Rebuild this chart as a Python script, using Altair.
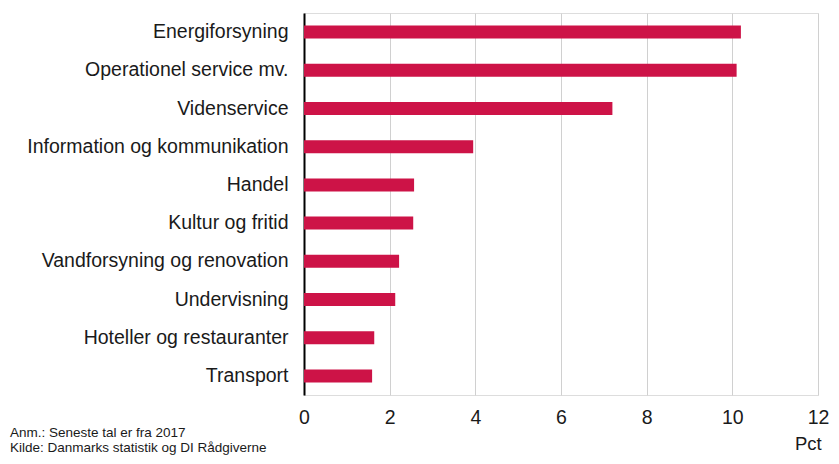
import altair as alt
import pandas as pd

categories = [
    "Energiforsyning",
    "Operationel service mv.",
    "Videnservice",
    "Information og kommunikation",
    "Handel",
    "Kultur og fritid",
    "Vandforsyning og renovation",
    "Undervisning",
    "Hoteller og restauranter",
    "Transport",
]
values = [10.2, 10.1, 7.2, 3.95, 2.57, 2.55, 2.22, 2.13, 1.64, 1.59]

notes = ["Anm.: Seneste tal er fra 2017", "Kilde: Danmarks statistik og DI Rådgiverne"]
unit_label = "Pct"

df = pd.DataFrame({"kategori": categories, "vaerdi": values})

FONT = "Liberation Sans"
BAR = "#CD1347"
TXT = "#1a1a1a"

bars = alt.Chart(df).mark_bar(color=BAR).encode(
    y=alt.Y(
        "kategori:N",
        sort=categories,
        title=None,
        scale=alt.Scale(paddingInner=0.66, paddingOuter=0.33),
        axis=alt.Axis(
            labelFont=FONT,
            labelFontSize=19.5,
            labelColor=TXT,
            labelPadding=16,
            ticks=False,
            domain=True,
            domainColor="#000000",
            domainWidth=2,
            grid=False,
            labelLimit=400,
        ),
    ),
    x=alt.X(
        "vaerdi:Q",
        title=None,
        scale=alt.Scale(domain=[0, 12], nice=False),
        axis=alt.Axis(
            values=[0, 2, 4, 6, 8, 10, 12],
            labelFont=FONT,
            labelFontSize=19.5,
            labelColor=TXT,
            labelPadding=13,
            labelFlush=False,
            ticks=False,
            domain=False,
            grid=True,
            gridColor="#d0d0d0",
            gridWidth=1,
        ),
    ),
)

notes_df = pd.DataFrame({"tekst": notes, "py": [420, 435]})
note_text = alt.Chart(notes_df).mark_text(
    align="left", baseline="middle", font=FONT, fontSize=13.5, color=TXT
).encode(
    text="tekst:N",
    x=alt.value(-294),
    y=alt.Y("py:Q", scale=None),
)

unit_df = pd.DataFrame({"tekst": [unit_label]})
unit_text = alt.Chart(unit_df).mark_text(
    align="left", baseline="middle", font=FONT, fontSize=18.5, color=TXT
).encode(
    text="tekst:N",
    x=alt.value(491),
    y=alt.value(431),
)

chart = alt.layer(bars, note_text, unit_text).properties(
    width=514,
    height=382,
    padding={"left": 296, "top": 5, "right": 13, "bottom": 60},
    autosize="none",
).configure_view(stroke=None).configure(background="white")

chart.save("out.html", embed_options={"renderer": "svg", "actions": False})
